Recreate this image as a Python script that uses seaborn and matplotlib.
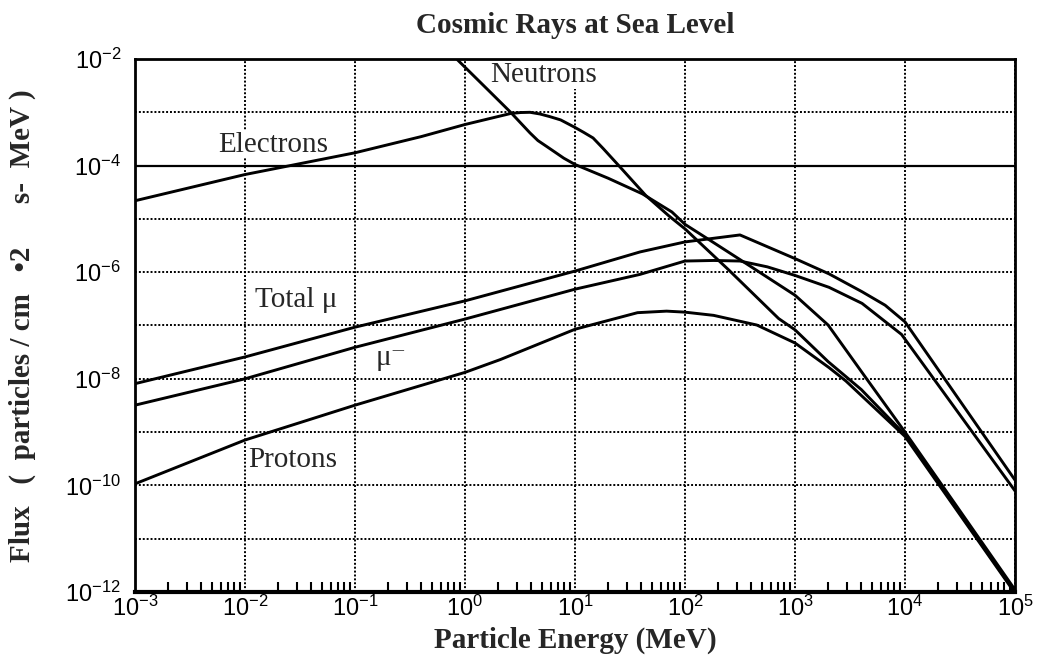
import matplotlib
matplotlib.use('Agg')
import numpy as np
import pandas as pd
import matplotlib.pyplot as plt
import seaborn as sns
from matplotlib.ticker import LogLocator, NullFormatter, NullLocator, FixedLocator, FixedFormatter

# values (energy in MeV, flux per cm2 s MeV)
electron_energy = [1e-3, 1e-2, 0.1, 0.4, 1.0, 2.6, 3.2, 3.9, 4.8, 5.9, 7.4, 10, 12, 14.6, 18, 25, 44, 71, 100,
                   250, 710, 1000, 2000, 4000, 1e4, 1e5]
electron_flux = [2.19e-5, 6.8e-5, 1.74e-4, 3.5e-4, 5.9e-4, 9.5e-4, 9.9e-4, 1.0e-3, 9.3e-4, 8.3e-4, 7.2e-4, 5.2e-4,
                 4.2e-4, 3.3e-4, 2.1e-4, 1.0e-4, 2.75e-5, 1.15e-5, 6.5e-6, 1.1e-6, 1.35e-7, 8.3e-8, 2.1e-8,
                 6.3e-9, 8.9e-10, 1e-12]

neutron_energy = [0.76, 0.84, 1.57, 2.6, 3.9, 4.6, 5.5, 6.6, 7.9, 10, 20, 41, 76, 100, 178, 380, 1000, 2000, 4400,
                  1e4, 1e5]
neutron_flux = [1.26e-2, 1e-2, 2.8e-3, 1e-3, 4.1e-4, 2.95e-4, 2.3e-4, 1.78e-4, 1.38e-4, 1.05e-4, 5.8e-5, 2.95e-5,
                1.35e-5, 7.9e-6, 3.7e-6, 1.35e-6, 3.7e-7, 1.02e-7, 1.05e-8, 1e-9, 1.1e-12]

total_mu_energy = [1e-3, 1e-2, 0.1, 1, 10, 39, 100, 316, 1000, 2040, 4070, 6600, 1e4, 1e5]
total_mu_flux = [8.1e-9, 2.57e-8, 9.3e-8, 2.9e-7, 1.05e-6, 2.4e-6, 3.7e-6, 5.0e-6, 1.8e-6, 9.3e-7, 4.3e-7, 2.4e-7,
                 1.17e-7, 1.26e-10]

mu_minus_energy = [1e-3, 1e-2, 0.1, 1, 10, 39, 100, 182, 316, 560, 1000, 2040, 4070, 9300, 1e5]
mu_minus_flux = [3.2e-9, 1e-8, 3.9e-8, 1.32e-7, 4.8e-7, 9.1e-7, 1.62e-6, 1.66e-6, 1.62e-6, 1.26e-6, 8.7e-7,
                 5.2e-7, 2.6e-7, 6.8e-8, 7.9e-11]

proton_energy = [1e-3, 1e-2, 0.1, 1, 2.1, 10, 37, 68, 100, 182, 450, 1000, 2040, 2900, 1e4, 1e5]
proton_flux = [1.07e-10, 7.1e-10, 3.2e-9, 1.32e-8, 2.3e-8, 8.5e-8, 1.74e-7, 1.86e-7, 1.78e-7, 1.55e-7, 1.02e-7,
               4.7e-8, 1.62e-8, 9.1e-9, 8.3e-10, 0.95e-12]

x_ticks = [1e-3, 1e-2, 1e-1, 1e0, 1e1, 1e2, 1e3, 1e4, 1e5]
x_tick_labels = ['$10^{-3}$', '$10^{-2}$', '$10^{-1}$', '$10^{0}$', '$10^{1}$', '$10^{2}$', '$10^{3}$', '$10^{4}$', '$10^{5}$']
y_ticks = [1e-12, 1e-11, 1e-10, 1e-9, 1e-8, 1e-7, 1e-6, 1e-5, 1e-4, 1e-3, 1e-2]
y_tick_labels = ['$10^{-12}$', '', '$10^{-10}$', '', '$10^{-8}$', '', '$10^{-6}$', '', '$10^{-4}$', '', '$10^{-2}$']

curves = [
    ('Electrons', electron_energy, electron_flux),
    ('Neutrons', neutron_energy, neutron_flux),
    ('Total mu', total_mu_energy, total_mu_flux),
    ('mu-', mu_minus_energy, mu_minus_flux),
    ('Protons', proton_energy, proton_flux),
]
df = pd.concat([pd.DataFrame({'particle': n, 'energy': e, 'flux': f}) for n, e, f in curves])

sns.set_theme(style='white')
plt.rcParams['font.family'] = ['Liberation Serif', 'DejaVu Serif']
plt.rcParams['mathtext.fontset'] = 'custom'
plt.rcParams['mathtext.rm'] = 'Liberation Sans'
plt.rcParams['mathtext.it'] = 'Liberation Sans:italic'
plt.rcParams['mathtext.default'] = 'rm'

fig = plt.figure(figsize=(10.46, 6.65), dpi=100)
ax = fig.add_axes([135 / 1046, 1 - 592 / 665, 880 / 1046, 533 / 665])

sns.lineplot(data=df, x='energy', y='flux', hue='particle',
             palette={n: 'black' for n, _, _ in curves}, estimator=None, sort=False,
             legend=False, linewidth=2.1, ax=ax)

ax.set_xscale('log')
ax.set_yscale('log')
ax.set_xlim(1e-3, 1e5)
ax.set_ylim(1e-12, 1e-2)

ax.xaxis.set_major_locator(FixedLocator(x_ticks))
ax.xaxis.set_major_formatter(FixedFormatter(x_tick_labels))
ax.xaxis.set_minor_locator(LogLocator(base=10, subs=range(2, 10)))
ax.xaxis.set_minor_formatter(NullFormatter())
ax.yaxis.set_major_locator(FixedLocator(y_ticks))
ax.yaxis.set_major_formatter(FixedFormatter(y_tick_labels))
ax.yaxis.set_minor_locator(NullLocator())

ax.tick_params(axis='x', which='major', direction='in', length=0, pad=3, labelsize=17, colors='black')
ax.tick_params(axis='x', which='minor', direction='in', length=7, width=1.5, bottom=True, color='black')
ax.tick_params(axis='y', which='major', length=0, pad=10, labelsize=17, colors='black')

ax.set_axisbelow(True)
ax.grid(which='major', color='black', linestyle=(0, (1, 1)), linewidth=1.4)
ax.axhline(1e-4, color='black', linewidth=1.6, zorder=1)

for side in ['left', 'top', 'right']:
    ax.spines[side].set_linewidth(2.0)
    ax.spines[side].set_color('black')
ax.spines['bottom'].set_linewidth(3.0)
ax.spines['bottom'].set_color('black')

# white boxes hide the grid behind the labels, the curves stay on top
label_box = dict(facecolor='white', edgecolor='none', pad=0.5)
ax.text(10 ** 0.23, 10 ** -2.3, 'Neutrons', fontsize=21, va='center', ha='left', bbox=label_box, zorder=1.5)
ax.text(10 ** -2.245, 10 ** -3.61, 'Electrons', fontsize=21, va='center', ha='left', bbox=label_box, zorder=1.5)
ax.text(10 ** -1.91, 10 ** -6.52, 'Total μ', fontsize=21, va='center', ha='left')
ax.text(10 ** -0.81, 10 ** -7.61, 'μ⁻', fontsize=21, va='center', ha='left')
ax.text(10 ** -1.97, 10 ** -9.52, 'Protons', fontsize=21, va='center', ha='left')

ax.set_title('Cosmic Rays at Sea Level', fontsize=21, fontweight='bold', pad=19)
ax.set_xlabel('Particle Energy (MeV)', fontsize=21, fontweight='bold')
ax.xaxis.label.set_va('center')
ax.xaxis.set_label_coords(0.5, (592 - 640) / 533)
ax.set_ylabel('Flux   (  particles / cm   •2      s-  MeV )', fontsize=21, fontweight='bold')
ax.yaxis.label.set_va('center')
ax.yaxis.set_label_coords((22 - 135) / 880, 0.5)

fig.savefig('out.png', dpi=100)
